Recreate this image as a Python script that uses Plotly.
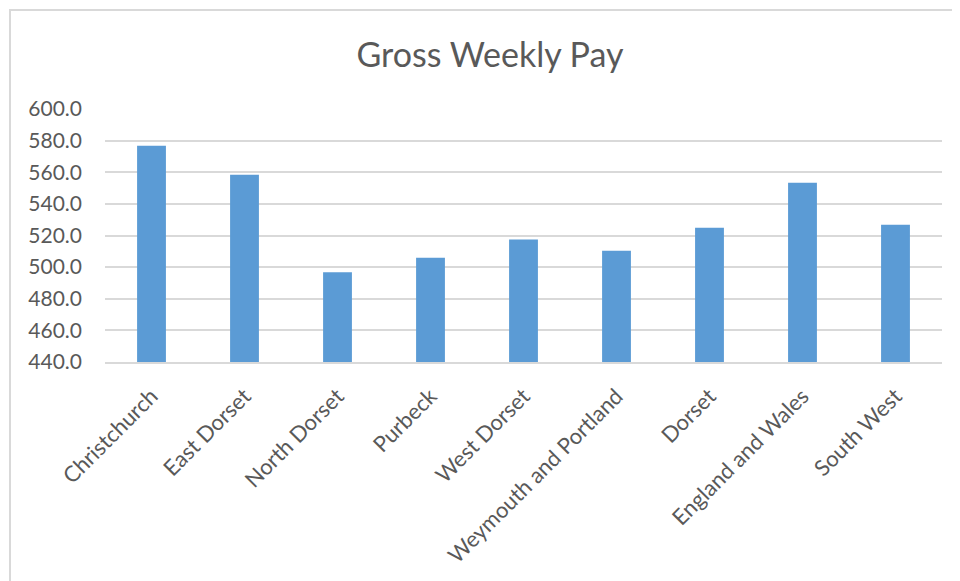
import plotly.graph_objects as go

categories = ["Christchurch", "East Dorset", "North Dorset", "Purbeck", "West Dorset",
              "Weymouth and Portland", "Dorset", "England and Wales", "South West"]
pay = [576.7, 558.4, 496.8, 506.0, 517.4, 510.4, 524.9, 553.3, 526.8]
tick_vals = [440, 460, 480, 500, 520, 540, 560, 580, 600]
tick_text = ["440.0", "460.0", "480.0", "500.0", "520.0", "540.0", "560.0", "580.0", "600.0"]

FONT = "Lato"
GREY = "#595959"
OFF = 8  # page body margin

fig = go.Figure(go.Bar(
    x=categories, y=pay,
    marker=dict(color="#5b9bd5", line=dict(width=0)),
    width=0.31,
))

fig.update_layout(
    width=960 - OFF, height=581 - OFF,
    margin=dict(l=105 - OFF, r=18, t=109 - OFF, b=219),
    paper_bgcolor="white", plot_bgcolor="white",
    font=dict(family=FONT, color=GREY, size=21),
    title=dict(text="Gross Weekly Pay", font=dict(family=FONT, size=34, color=GREY),
               x=(490 - 105) / 837, xref="paper", xanchor="center",
               y=1 - (55 - OFF) / (581 - OFF), yref="container", yanchor="middle"),
    showlegend=False,
    shapes=[dict(type="rect", xref="paper", yref="paper",
                 x0=-95 / 837, x1=1.1, y0=-1.0, y1=1 + 99 / 253,
                 line=dict(color="#d9d9d9", width=2), fillcolor="rgba(0,0,0,0)", layer="below")],
)
fig.update_yaxes(range=[440, 600], tickvals=tick_vals, ticktext=tick_text,
                 showgrid=True, gridcolor="#d9d9d9", gridwidth=1.5,
                 zeroline=False, showline=False, ticks="", ticklabelstandoff=22,
                 tickfont=dict(family=FONT, size=21, color=GREY))
fig.update_xaxes(showgrid=False, tickangle=-45, ticks="", showline=True,
                 linecolor="#d9d9d9", linewidth=1.5,
                 ticklabelstandoff=11,
                 tickfont=dict(family=FONT, size=22, color=GREY))

fig.write_html("out.html")
